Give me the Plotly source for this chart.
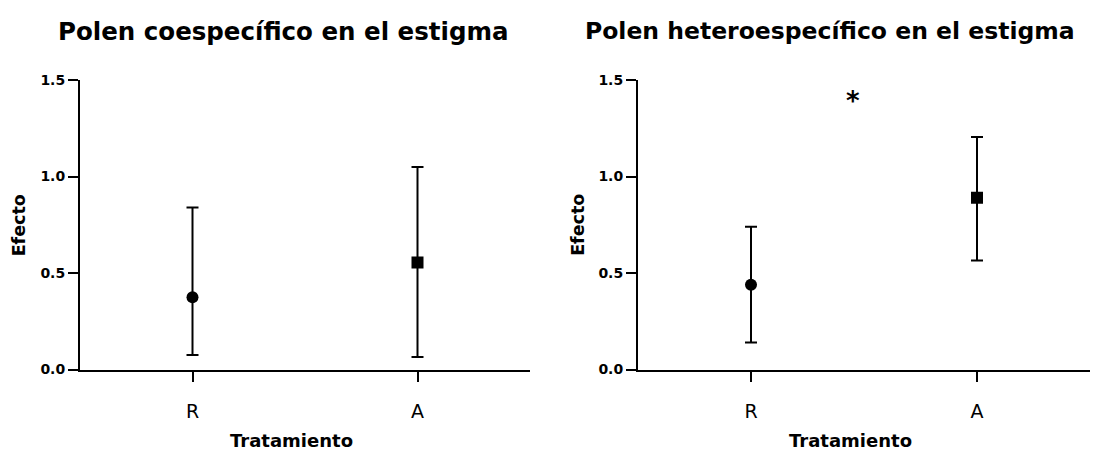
import plotly.graph_objects as go

# Treatment groups and effect estimates with their interval limits
treatments = ["R", "A"]
symbols = ["circle", "square"]

coesp_mean = [0.375, 0.555]
coesp_upper = [0.84, 1.05]
coesp_lower = [0.075, 0.065]

hetero_mean = [0.44, 0.89]
hetero_upper = [0.74, 1.205]
hetero_lower = [0.14, 0.565]

y_ticks = [0.0, 0.5, 1.0, 1.5]
titles = ["Polen coespecífico en el estigma", "Polen heteroespecífico en el estigma"]

W, H = 1101, 457
FONT = "DejaVu Sans"


def panel_trace(mean, upper, lower, xa, ya):
    plus = [u - m for u, m in zip(upper, mean)]
    minus = [m - l for m, l in zip(mean, lower)]
    return go.Scatter(
        x=[0, 1], y=mean, mode="markers",
        marker=dict(symbol=symbols, size=12, color="black"),
        error_y=dict(type="data", symmetric=False, array=plus, arrayminus=minus,
                     color="black", thickness=2, width=6),
        xaxis=xa, yaxis=ya, showlegend=False, hoverinfo="skip",
    )


fig = go.Figure()
fig.add_trace(panel_trace(coesp_mean, coesp_upper, coesp_lower, "x", "y"))
fig.add_trace(panel_trace(hetero_mean, hetero_upper, hetero_lower, "x2", "y2"))

y_dom = [(H - 374.7) / H, (H - 74.7) / H]
x_doms = [[80 / W, 530 / W], [638 / W, 1090 / W]]

xcommon = dict(
    range=[-0.5, 1.5], tickmode="array", tickvals=[0, 1], ticktext=treatments,
    showline=True, linewidth=2, linecolor="black", showgrid=False, zeroline=False,
    ticks="outside", ticklen=10, tickwidth=2, tickcolor="black", ticklabelstandoff=14,
    tickfont=dict(family=FONT, size=19, color="black"), fixedrange=True,
)
ycommon = dict(
    range=[0, 1.5], tickmode="array", tickvals=y_ticks,
    ticktext=[f"{v:.1f}" for v in y_ticks],
    showline=True, linewidth=2, linecolor="black", showgrid=False, zeroline=False,
    ticks="outside", ticklen=10, tickwidth=2, tickcolor="black",
    tickfont=dict(family=FONT, size=14, color="black", weight="bold"), fixedrange=True,
)

fig.update_layout(
    width=W, height=H,
    margin=dict(l=0, r=0, t=0, b=0),
    paper_bgcolor="white", plot_bgcolor="white",
    xaxis=dict(domain=x_doms[0], anchor="y", **xcommon),
    yaxis=dict(domain=y_dom, anchor="x", **ycommon),
    xaxis2=dict(domain=x_doms[1], anchor="y2", **xcommon),
    yaxis2=dict(domain=y_dom, anchor="x2", **ycommon),
)

bold = dict(family=FONT, color="black", weight="bold")
annotations = [
    dict(text=titles[0], x=283 / W, y=1 - 24 / H, xref="paper", yref="paper",
         xanchor="center", yanchor="middle", showarrow=False, font=dict(size=24.5, **bold)),
    dict(text=titles[1], x=830 / W, y=1 - 24 / H, xref="paper", yref="paper",
         xanchor="center", yanchor="middle", showarrow=False, font=dict(size=23.5, **bold)),
    dict(text="Tratamiento", x=291 / W, y=1 - 448 / H, xref="paper", yref="paper",
         xanchor="center", yanchor="middle", showarrow=False, font=dict(size=18, **bold)),
    dict(text="Tratamiento", x=850 / W, y=1 - 448 / H, xref="paper", yref="paper",
         xanchor="center", yanchor="middle", showarrow=False, font=dict(size=18, **bold)),
    dict(text="Efecto", x=18.5 / W, y=1 - 224.7 / H, xref="paper", yref="paper", textangle=-90,
         xanchor="center", yanchor="middle", showarrow=False, font=dict(size=17.5, **bold)),
    dict(text="Efecto", x=578 / W, y=1 - 224.7 / H, xref="paper", yref="paper", textangle=-90,
         xanchor="center", yanchor="middle", showarrow=False, font=dict(size=17.5, **bold)),
    dict(text="*", x=0.45, y=1.39, xref="x2", yref="y2", xanchor="center", yanchor="middle",
         showarrow=False, font=dict(size=26, **bold)),
]
fig.update_layout(annotations=annotations)

fig.write_html("out.html", config=dict(displayModeBar=False, responsive=False))
